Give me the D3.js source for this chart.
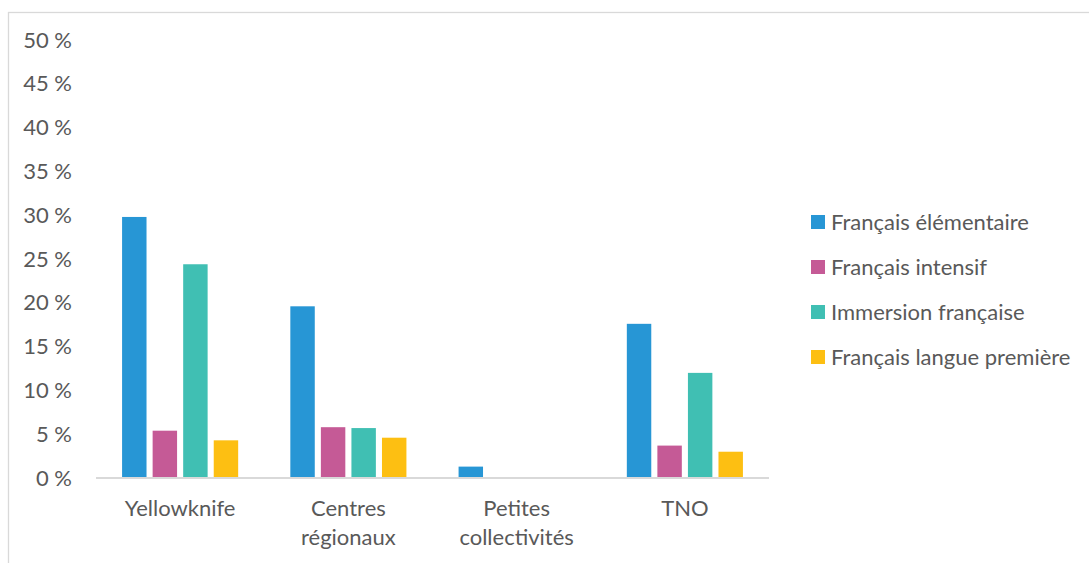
<!DOCTYPE html>
<html>
<head>
<meta charset="utf-8">
<script src="https://cdn.jsdelivr.net/npm/d3@7"></script>
<style>
  body { margin: 0; background: #fff; }
  svg text { font-family: Lato, "Open Sans", sans-serif; fill: #595959; }
</style>
</head>
<body>
<div id="chart"></div>
<script>
// categories + series (in %)
const categories = [["Yellowknife"], ["Centres", "régionaux"], ["Petites", "collectivités"], ["TNO"]];
const seriesNames = ["Français élémentaire", "Français intensif", "Immersion française", "Français langue première"];
const elementaire = [29.8, 19.6, 1.3, 17.6];
const intensif = [5.4, 5.8, 0, 3.7];
const immersion = [24.4, 5.7, 0, 12.0];
const languePremiere = [4.3, 4.6, 0, 3.0];
const yTicks = [0, 5, 10, 15, 20, 25, 30, 35, 40, 45, 50];

const seriesValues = [elementaire, intensif, immersion, languePremiere];
const colors = ["#2796d5", "#c55a96", "#40bfb3", "#fdbf12"];
const fontSize = "22px";

const W = 1089, H = 563;
const svg = d3.select("#chart").append("svg")
    .attr("width", W)
    .attr("height", H);

// chart frame
svg.append("rect")
    .attr("x", 8.5).attr("y", 12.5)
    .attr("width", W + 10).attr("height", H + 10)
    .attr("fill", "none")
    .attr("stroke", "#d9d9d9")
    .attr("stroke-width", 1.3);

const plotLeft = 96, plotRight = 769, y0 = 478, yTop = 40;

const x0 = d3.scaleBand()
    .domain(d3.range(categories.length))
    .range([plotLeft, plotRight])
    .paddingInner(0.31)
    .paddingOuter(0.155);

const x1 = d3.scaleBand()
    .domain(d3.range(seriesNames.length))
    .range([0, x0.bandwidth()])
    .paddingInner(0.2);

const y = d3.scaleLinear().domain([0, 50]).range([y0, yTop]);

// y labels - no axis line, no ticks
const yAxis = svg.append("g")
    .attr("transform", `translate(${plotLeft}, 0)`)
    .call(d3.axisLeft(y).tickValues(yTicks).tickSize(0).tickPadding(24)
        .tickFormat(d => d + "\u00a0%"));
yAxis.select(".domain").remove();
yAxis.selectAll("text")
    .style("font-size", fontSize)
    .style("font-family", "Lato, sans-serif")
    .attr("fill", "#595959");

// bars
categories.forEach((c, i) => {
    const g = svg.append("g").attr("transform", `translate(${x0(i)}, 0)`);
    seriesValues.forEach((vals, s) => {
        if (vals[i] <= 0) return;
        g.append("rect")
            .attr("x", x1(s))
            .attr("y", y(vals[i]))
            .attr("width", x1.bandwidth())
            .attr("height", y0 - y(vals[i]))
            .attr("fill", colors[s]);
    });
});

// x axis line
svg.append("line")
    .attr("x1", plotLeft).attr("x2", plotRight)
    .attr("y1", y0).attr("y2", y0)
    .attr("stroke", "#d9d9d9")
    .attr("stroke-width", 2);

// category labels (wrapped like excel)
categories.forEach((lines, i) => {
    const t = svg.append("text")
        .attr("x", x0(i) + x0.bandwidth() / 2)
        .attr("y", 516)
        .attr("text-anchor", "middle")
        .style("font-size", fontSize);
    lines.forEach((l, k) => {
        t.append("tspan")
            .attr("x", x0(i) + x0.bandwidth() / 2)
            .attr("dy", k === 0 ? 0 : 29)
            .text(l);
    });
});

// legend
const legend = svg.append("g").attr("transform", "translate(811, 222)");
seriesNames.forEach((name, i) => {
    const row = legend.append("g").attr("transform", `translate(0, ${i * 45})`);
    row.append("rect")
        .attr("x", 0).attr("y", -7)
        .attr("width", 14).attr("height", 14)
        .attr("fill", colors[i]);
    row.append("text")
        .attr("x", 20).attr("y", 8)
        .style("font-size", fontSize)
        .text(name);
});
</script>
</body>
</html>
